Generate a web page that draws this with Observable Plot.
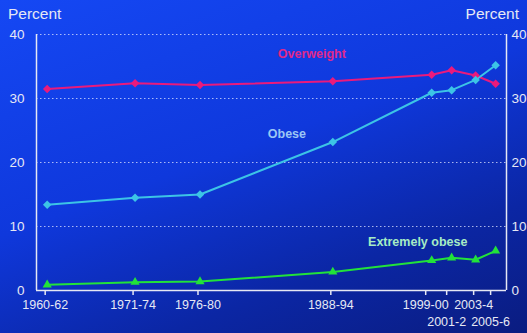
<!DOCTYPE html>
<html>
<head>
<meta charset="utf-8">
<script src="https://cdn.jsdelivr.net/npm/d3@7"></script>
<script src="https://cdn.jsdelivr.net/npm/@observablehq/plot@0.6"></script>
<style>
  html, body { margin: 0; padding: 0; }
  body { width: 527px; height: 333px; overflow: hidden;
         background: linear-gradient(160deg, #1548f4 0%, #0f38dc 45%, #0b26a4 75%, #0a1c80 100%); }
  #chart { position: relative; width: 527px; height: 333px; }
  .unit { position: absolute; top: 5px; font: 15.5px "Liberation Sans", Arial, sans-serif; color: #e6e8f4; }
</style>
</head>
<body>
<div id="chart">
  <div class="unit" style="left:8px">Percent</div>
  <div class="unit" style="right:8px">Percent</div>
</div>
<script>
// Survey periods and where each one sits on the time axis
const periods = ["1960-62", "1971-74", "1976-80", "1988-94", "1999-00", "2001-2", "2003-4", "2005-6"];
const periodYear = [1961, 1969.8, 1976.3, 1989.6, 1999.5, 2001.5, 2003.9, 2005.9];
const lowerRow = ["2001-2", "2005-6"];

// Prevalence among adults, percent
const overweight = [31.5, 32.4, 32.1, 32.7, 33.7, 34.4, 33.6, 32.3];
const obese = [13.4, 14.5, 15.0, 23.2, 30.9, 31.3, 32.9, 35.2];
const extremelyObese = [0.9, 1.3, 1.4, 2.9, 4.7, 5.1, 4.8, 6.2];

const seriesNames = ["Overweight", "Obese", "Extremely obese"];
const seriesColors = ["#ea1a7c", "#3cc4e6", "#22e23a"];
const labelColors = ["#e0288a", "#9cc6f4", "#a6ecc4"];
const seriesSymbols = ["square", "square", "triangle"];
const labelYear = [1987.5, 1985.0, 1998.1];
const labelValue = [37.0, 24.5, 7.65];

const yTicks = [0, 10, 20, 30, 40];
const xDomain = [1959.93, 2006.99];

const rows = [];
[overweight, obese, extremelyObese].forEach((vals, s) => {
  vals.forEach((v, i) => rows.push({series: seriesNames[s], period: periods[i], year: periodYear[i], value: v}));
});
const labels = seriesNames.map((name, i) => ({name, year: labelYear[i], value: labelValue[i], color: labelColors[i]}));
const yearLabel = new Map(periodYear.map((y, i) => [y, periods[i]]));
const yearsWhere = test => periodYear.filter(y => test(yearLabel.get(y)));

const font = "'Liberation Sans', Arial, sans-serif";
const ink = "#e6e8f4";
const xAxisStyle = {tickSize: 5, stroke: ink, strokeWidth: 1.5, label: null, fill: ink, fontSize: 12.5,
  tickFormat: d => yearLabel.get(d)};

const plot = Plot.plot({
  width: 527,
  height: 333,
  marginTop: 34,
  marginBottom: 43,
  marginLeft: 36,
  marginRight: 21,
  style: {background: "transparent", fontFamily: font, fontSize: "13px", color: ink},
  x: {domain: xDomain},
  y: {domain: [0, 40]},
  color: {domain: seriesNames, range: seriesColors},
  symbol: {domain: seriesNames, range: seriesSymbols},
  marks: [
    // dotted horizontal grid
    Plot.ruleY(yTicks.filter(d => d > 0), {stroke: "#dfe4ff", strokeOpacity: 0.75, strokeWidth: 1, strokeDasharray: "1.5,2.5"}),
    // frame: both sides and the baseline
    Plot.ruleX(xDomain, {y1: 0, y2: 40, stroke: ink, strokeWidth: 1.5}),
    Plot.ruleY([0], {stroke: ink, strokeWidth: 1.5}),
    Plot.axisY(yTicks, {anchor: "left", tickSize: 0, tickPadding: 12, label: null, fill: ink, fontSize: 13.5}),
    Plot.axisY(yTicks, {anchor: "right", tickSize: 0, tickPadding: 5, label: null, fill: ink, fontSize: 13.5}),
    // period labels: most on one row, two crowded ones dropped to a second row
    Plot.axisX(yearsWhere(p => !lowerRow.includes(p) && p !== "1999-00"), {...xAxisStyle, tickPadding: 5, dx: -2}),
    Plot.axisX(yearsWhere(p => p === "1999-00"), {...xAxisStyle, tickPadding: 5, dx: -6}),
    Plot.axisX(yearsWhere(p => lowerRow.includes(p)), {...xAxisStyle, tickPadding: 22, dx: -5}),
    Plot.line(rows, {x: "year", y: "value", z: "series", stroke: "series", strokeWidth: 2}),
    // diamonds are squares turned on their corner
    Plot.dot(rows, {x: "year", y: "value", fill: "series", symbol: "series", r: 3.4, stroke: "none",
      rotate: d => d.series === "Extremely obese" ? 0 : 45}),
    Plot.text(labels, {x: "year", y: "value", text: "name", fill: "color", fontWeight: "bold", fontSize: 12.5})
  ]
});
document.getElementById("chart").appendChild(plot);
plot.style.position = "absolute";
plot.style.left = "0";
plot.style.top = "0";
</script>
</body>
</html>
